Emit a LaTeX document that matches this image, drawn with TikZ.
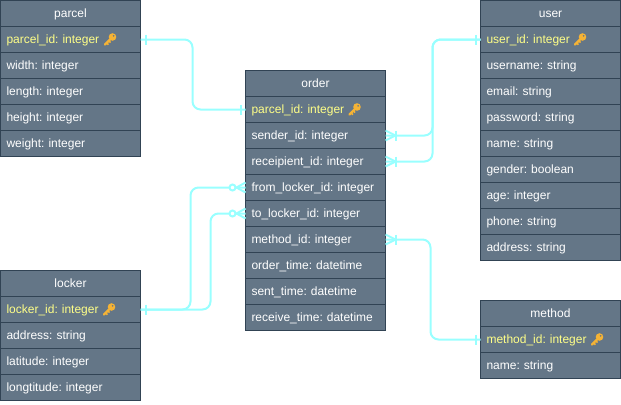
\documentclass[tikz,border=0pt]{standalone}
\usepackage{fontspec}
\setmainfont{Liberation Sans}
\usetikzlibrary{calc}
\definecolor{cellfill}{HTML}{647687}
\definecolor{cellline}{HTML}{314354}
\definecolor{linkcol}{HTML}{99FFFF}
\definecolor{pkcol}{HTML}{FFFF88}
\definecolor{keycol}{HTML}{F5B335}
\tikzset{
  cellbase/.style={draw=cellline,fill=cellfill,line width=.75pt,minimum height=19.5pt,
    font=\fontsize{9}{11}\selectfont\frenchspacing,text height=8pt,text depth=1.9pt,outer sep=0pt,inner ysep=0pt},
  hdr/.style={cellbase,text=white,align=center,minimum width=105pt},
  row/.style={cellbase,text=white,text width=96pt,inner xsep=4.5pt,align=left},
  pkrow/.style={row,text=pkcol},
  link/.style={draw=linkcol,line width=1.5pt,rounded corners=6pt},
  tick/.style={draw=linkcol,line width=1.5pt},
  keyicon/.pic={
    \fill[keycol,even odd rule] (2.5,-2.5) circle (3.8) (3.6,-3.6) circle (1.1);
    \draw[keycol,line width=1.7pt,line cap=round] (0,0) -- (-5,5);
    \draw[keycol,line width=1.2pt] (-3.4,3.4) -- (-1.6,5.2) (-1.2,1.2) -- (0.6,3);
  }
}
\newcommand{\onemark}[2]{% anchor, x offset
  \draw[tick] ($(#1)+(#2,-5)$) -- ($(#1)+(#2,5)$);}
\newcommand{\manymark}[2]{% anchor, sign
  \draw[tick] ($(#1)+(#2*10,-5)$) -- ($(#1)+(#2*10,5)$);
  \draw[tick] ($(#1)+(0,-5)$) -- ($(#1)+(#2*10,0)$) -- ($(#1)+(0,5)$);}
\newcommand{\zeromark}[1]{%
  \draw[tick] ($(#1)+(0,-5)$) -- ($(#1)+(-9,0)$) -- ($(#1)+(0,5)$);
  \draw[tick,fill=white] ($(#1)+(-13,0)$) circle (3);}
\begin{document}
\begin{tikzpicture}[x=.75pt,y=-.75pt]
\useasboundingbox (0,0) rectangle (621,404);
% parcel
\node[hdr] (parcelH) at (70.5,13.5) {parcel};
\node[pkrow] (parcelId) at (70.5,39.5) {parcel\_id: integer};
\node[row] (parcelW) at (70.5,65.5) {width: integer};
\node[row] (parcelL) at (70.5,91.5) {length: integer};
\node[row] (parcelT) at (70.5,117.5) {height: integer};
\node[row] (parcelG) at (70.5,143.5) {weight: integer};
% locker
\node[hdr] (lockerH) at (70.5,283.5) {locker};
\node[pkrow] (lockerId) at (70.5,309.5) {locker\_id: integer};
\node[row] (lockerA) at (70.5,335.5) {address: string};
\node[row] (lockerB) at (70.5,361.5) {latitude: integer};
\node[row] (lockerC) at (70.5,387.5) {longtitude: integer};
% order
\node[hdr] (orderH) at (315.5,83.5) {order};
\node[pkrow] (orderP) at (315.5,109.5) {parcel\_id: integer};
\node[row] (orderS) at (315.5,135.5) {sender\_id: integer};
\node[row] (orderR) at (315.5,161.5) {receipient\_id: integer};
\node[row] (orderF) at (315.5,187.5) {from\_locker\_id: integer};
\node[row] (orderT) at (315.5,213.5) {to\_locker\_id: integer};
\node[row] (orderM) at (315.5,239.5) {method\_id: integer};
\node[row] (orderO) at (315.5,265.5) {order\_time: datetime};
\node[row] (orderN) at (315.5,291.5) {sent\_time: datetime};
\node[row] (orderV) at (315.5,317.5) {receive\_time: datetime};
% user
\node[hdr] (userH) at (550.5,13.5) {user};
\node[pkrow] (userId) at (550.5,39.5) {user\_id: integer};
\node[row] (userA) at (550.5,65.5) {username: string};
\node[row] (userB) at (550.5,91.5) {email: string};
\node[row] (userC) at (550.5,117.5) {password: string};
\node[row] (userD) at (550.5,143.5) {name: string};
\node[row] (userE) at (550.5,169.5) {gender: boolean};
\node[row] (userF) at (550.5,195.5) {age: integer};
\node[row] (userG) at (550.5,221.5) {phone: string};
\node[row] (userI) at (550.5,247.5) {address: string};
% method
\node[hdr] (methodH) at (550.5,313.5) {method};
\node[pkrow] (methodId) at (550.5,339.5) {method\_id: integer};
\node[row] (methodN) at (550.5,365.5) {name: string};
% keys
\pic at (110,39.5) {keyicon};
\pic at (354.5,109.5) {keyicon};
\pic at (580,39.5) {keyicon};
\pic at (109,309.5) {keyicon};
\pic at (597,339.5) {keyicon};
% bend coordinates
\coordinate (bendP) at (192.5,75);
\coordinate (bendU) at (432.5,100);
\coordinate (bendM) at (430.5,290);
\coordinate (bendF) at (190.5,250);
\coordinate (bendT) at (210.5,260);
% connectors
\draw[link] (parcelId.east) -| (bendP) |- (orderP.west);
\draw[link] (orderS.east) -| (bendU) |- (userId.west);
\draw[link] (orderR.east) -| (bendU) |- (userId.west);
\draw[link] (orderM.east) -| (bendM) |- (methodId.west);
\draw[link] (lockerId.east) -| (bendF) |- (orderF.west);
\draw[link] (lockerId.east) -| (bendT) |- (orderT.west);
% markers
\onemark{parcelId.east}{5}
\onemark{orderP.west}{-5}
\onemark{userId.west}{-5}
\onemark{methodId.west}{-5}
\onemark{lockerId.east}{5}
\manymark{orderS.east}{1}
\manymark{orderR.east}{1}
\manymark{orderM.east}{1}
\zeromark{orderF.west}
\zeromark{orderT.west}
\end{tikzpicture}
\end{document}
